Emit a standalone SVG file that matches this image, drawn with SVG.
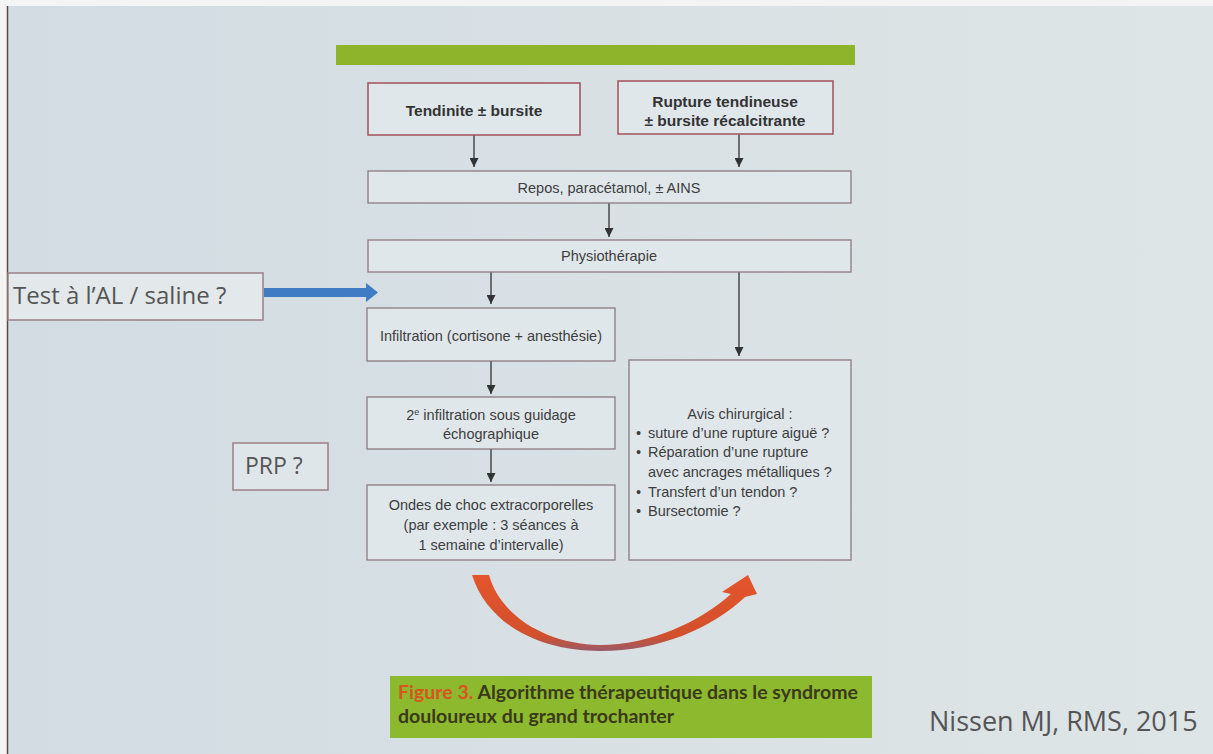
<svg xmlns="http://www.w3.org/2000/svg" width="1213" height="754" viewBox="0 0 1213 754">
<defs>
<style>
.box{fill:#dfe7eb;stroke:#a65a62;stroke-width:1.6}
.boxg{fill:#dfe7eb;stroke:#8a7a7e;stroke-width:1.3}
.t{font-family:"Liberation Sans","Open Sans",sans-serif;fill:#3e3e3e;font-size:14.5px}
.tb{font-family:"Liberation Sans","Open Sans",sans-serif;fill:#333;font-size:15.5px;font-weight:bold}
.side{font-family:"Open Sans","Liberation Sans",sans-serif;fill:#555}
.con{stroke:#333;stroke-width:1.3;fill:none}
.cap{font-family:"Lato","Liberation Sans",sans-serif;font-size:19.5px;font-weight:bold;fill:#3a3a1a}
</style>
<marker id="ah" viewBox="0 0 10 10" refX="10" refY="5" markerWidth="9" markerHeight="9" markerUnits="userSpaceOnUse" orient="auto">
<path d="M0,0 L10,5 L0,10 Z" fill="#333"/>
</marker>
<linearGradient id="bg" x1="0" y1="0" x2="1" y2="0">
<stop offset="0" stop-color="#d2dce2"/>
<stop offset="1" stop-color="#dee5e6"/>
</linearGradient>
<linearGradient id="ca" x1="0" y1="0" x2="0" y2="1">
<stop offset="0" stop-color="#e4552c"/>
<stop offset="0.8" stop-color="#d2502c"/>
<stop offset="1" stop-color="#9a5a6a"/>
</linearGradient>
</defs>
<rect x="0" y="0" width="1213" height="754" fill="#f4f4f4"/>
<rect x="8" y="6" width="1205" height="748" fill="url(#bg)"/>
<line x1="7.5" y1="6" x2="7.5" y2="754" stroke="#5a4a44" stroke-width="1.5"/>
<rect x="336" y="45" width="519" height="20" fill="#8db42a"/>

<g id="connectors">
<line class="con" x1="474" y1="135" x2="474" y2="167" marker-end="url(#ah)"/>
<line class="con" x1="739" y1="134" x2="739" y2="167" marker-end="url(#ah)"/>
<line class="con" x1="609" y1="203" x2="609" y2="237" marker-end="url(#ah)"/>
<line class="con" x1="491" y1="272" x2="491" y2="304" marker-end="url(#ah)"/>
<line class="con" x1="739" y1="272" x2="739" y2="356" marker-end="url(#ah)"/>
<line class="con" x1="491" y1="361" x2="491" y2="394" marker-end="url(#ah)"/>
<line class="con" x1="491" y1="449" x2="491" y2="482" marker-end="url(#ah)"/>
<path d="M264,288 L366,288 L366,283 L378,292.5 L366,302 L366,297 L264,297 Z" fill="#3f7cc4"/>
<path d="M472,575 L489,575 C500,615 545,644 600,645 C650,645 700,622 731,594 L722,592 L748,575 L757,594 L745,597 C712,628 660,651 600,651 C540,651 488,625 472,575 Z" fill="url(#ca)"/>
</g>

<g id="n1"><rect class="box" x="368" y="83" width="212" height="52"/>
<text class="tb" x="474" y="116" text-anchor="middle">Tendinite ± bursite</text></g>
<g id="n2"><rect class="box" x="618" y="81" width="215" height="53"/>
<text class="tb" x="725" y="107" text-anchor="middle">Rupture tendineuse</text>
<text class="tb" x="725" y="126" text-anchor="middle">± bursite récalcitrante</text></g>
<g id="n3"><rect class="boxg" x="368" y="171" width="483" height="32"/>
<text class="t" x="609" y="193" text-anchor="middle">Repos, paracétamol, ± AINS</text></g>
<g id="n4"><rect class="boxg" x="368" y="240" width="483" height="32"/>
<text class="t" x="609" y="261" text-anchor="middle">Physiothérapie</text></g>
<g id="n5"><rect class="boxg" x="367" y="308" width="248" height="53"/>
<text class="t" x="491" y="341" text-anchor="middle">Infiltration (cortisone + anesthésie)</text></g>
<g id="n6"><rect class="boxg" x="367" y="397" width="248" height="52"/>
<text class="t" x="491" y="420" text-anchor="middle">2<tspan font-size="9" dy="-5">e</tspan><tspan dy="5"> infiltration sous guidage</tspan></text>
<text class="t" x="491" y="439" text-anchor="middle">échographique</text></g>
<g id="n7"><rect class="boxg" x="367" y="485" width="248" height="75"/>
<text class="t" x="491" y="510" text-anchor="middle">Ondes de choc extracorporelles</text>
<text class="t" x="491" y="530" text-anchor="middle">(par exemple : 3 séances à</text>
<text class="t" x="491" y="550" text-anchor="middle">1 semaine d’intervalle)</text></g>
<g id="n8"><rect class="boxg" x="629" y="360" width="222" height="200"/>
<text class="t" x="740" y="419" text-anchor="middle">Avis chirurgical :</text>
<text class="t" x="636" y="438">•</text><text class="t" x="648" y="438">suture d’une rupture aiguë ?</text>
<text class="t" x="636" y="457">•</text><text class="t" x="648" y="457">Réparation d’une rupture</text>
<text class="t" x="648" y="477">avec ancrages métalliques ?</text>
<text class="t" x="636" y="497">•</text><text class="t" x="648" y="497">Transfert d’un tendon ?</text>
<text class="t" x="636" y="516">•</text><text class="t" x="648" y="516">Bursectomie ?</text></g>
<g id="test"><rect x="8" y="273" width="255" height="47" fill="#e3e8ea" stroke="#9a8084" stroke-width="1.5"/>
<text class="side" x="13" y="304" font-size="24">Test à l’AL / saline ?</text></g>
<g id="prp"><rect x="233" y="443" width="95" height="47" fill="#dfe6e9" stroke="#9a8084" stroke-width="1.5"/>
<text class="side" x="245" y="474" font-size="23">PRP ?</text></g>
<g id="caption"><rect x="390" y="676" width="482" height="62" fill="#8cb92e"/>
<text class="cap" x="398" y="699"><tspan fill="#d9541e">Figure 3.</tspan> Algorithme thérapeutique dans le syndrome</text>
<text class="cap" x="398" y="723">douloureux du grand trochanter</text></g>
<text x="929" y="731" font-family="Open Sans, Liberation Sans, sans-serif" font-size="27" fill="#555">Nissen MJ, RMS, 2015</text>
</svg>
